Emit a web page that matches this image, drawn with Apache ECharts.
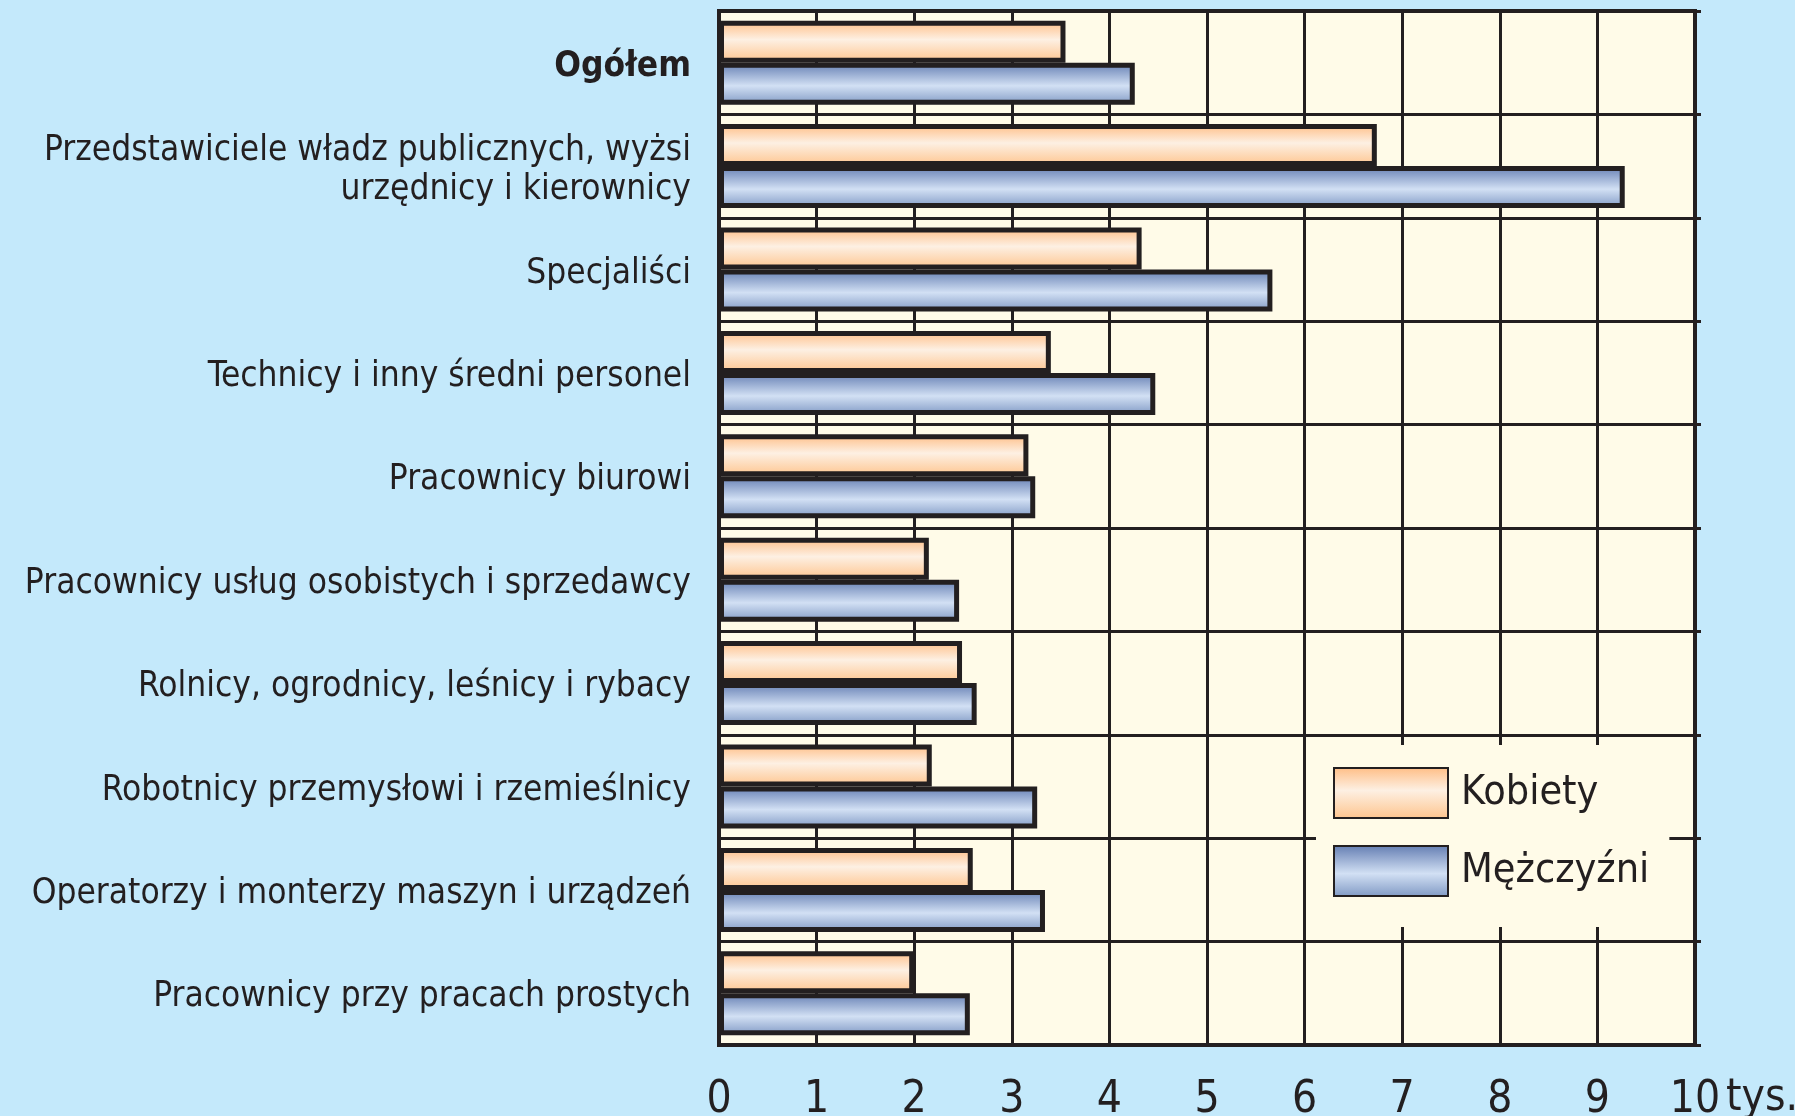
<!DOCTYPE html>
<html>
<head>
<meta charset="utf-8">
<script src="https://cdn.jsdelivr.net/npm/echarts@6/dist/echarts.min.js"></script>
<style>
html,body{margin:0;padding:0;background:#c4e9fb;}
#c{width:1795px;height:1116px;}
</style>
</head>
<body>
<div id="c"></div>
<script>
const categories = [
  'Ogółem',
  'Przedstawiciele władz publicznych, wyżsi\nurzędnicy i kierownicy',
  'Specjaliści',
  'Technicy i inny średni personel',
  'Pracownicy biurowi',
  'Pracownicy usług osobistych i sprzedawcy',
  'Rolnicy, ogrodnicy, leśnicy i rybacy',
  'Robotnicy przemysłowi i rzemieślnicy',
  'Operatorzy i monterzy maszyn i urządzeń',
  'Pracownicy przy pracach prostych'
];
const seriesNames = ['Kobiety', 'Mężczyźni'];
const kobiety   = [3.55, 6.74, 4.33, 3.40, 3.17, 2.15, 2.49, 2.18, 2.60, 2.00];
const mezczyzni = [4.26, 9.28, 5.67, 4.47, 3.24, 2.46, 2.64, 3.26, 3.34, 2.57];
const xTicks = [0, 1, 2, 3, 4, 5, 6, 7, 8, 9, 10];
const unitLabel = 'tys.';

const FONT = '"Liberation Sans Narrow", "DejaVu Sans Condensed", "Open Sans", sans-serif';
const INK = '#231f20';

const orangeGrad = new echarts.graphic.LinearGradient(0, 0, 0, 1, [
  {offset: 0, color: '#ffbd84'},
  {offset: 0.45, color: '#fdf0e3'},
  {offset: 1, color: '#fec48d'}
]);
const blueGrad = new echarts.graphic.LinearGradient(0, 0, 0, 1, [
  {offset: 0, color: '#637db2'},
  {offset: 0.55, color: '#d2e0f4'},
  {offset: 1, color: '#8099c4'}
]);

const chart = echarts.init(document.getElementById('c'), null, {renderer: 'canvas'});
chart.setOption({
  backgroundColor: '#c4e9fb',
  animation: false,
  textStyle: {fontFamily: FONT},
  grid: {
    left: 719, right: 100, top: 11, bottom: 71,
    containLabel: false, outerBoundsMode: 'none',
    show: true, backgroundColor: '#fffbe8', borderColor: INK, borderWidth: 4
  },
  legend: {
    orient: 'vertical',
    left: 1316, top: 745,
    padding: [22, 20, 30, 17],
    backgroundColor: '#fffbe8',
    itemWidth: 114, itemHeight: 50, itemGap: 26,
    icon: 'rect',
    textStyle: {fontSize: 41, color: INK, fontFamily: FONT, padding: [10, 0, 0, 8]},
    data: seriesNames
  },
  xAxis: {
    type: 'value', min: xTicks[0], max: xTicks[xTicks.length - 1], interval: 1,
    axisLine: {show: false}, axisTick: {show: false},
    splitLine: {show: true, lineStyle: {color: INK, width: 3}},
    axisLabel: {fontSize: 44, color: INK, margin: 34, fontFamily: FONT}
  },
  yAxis: [{
    type: 'category', inverse: true, data: categories,
    axisLine: {show: false}, axisTick: {show: false},
    splitLine: {show: true, lineStyle: {color: INK, width: 3}},
    axisLabel: {
      fontSize: 35, color: INK, margin: 28, lineHeight: 39, align: 'right', fontFamily: FONT,
      padding: [8, 0, 0, 0],
      formatter: (v, i) => i === 0 ? '{b|' + v + '}' : v,
      rich: {b: {fontWeight: 'bold', fontSize: 35, color: INK, fontFamily: FONT}}
    }
  }, {
    type: 'category', inverse: true, data: categories, position: 'right',
    axisLine: {show: false},
    axisTick: {show: true, length: 6, lineStyle: {color: INK, width: 3}},
    axisLabel: {show: false}, splitLine: {show: false}
  }],
  graphic: [{
    type: 'text', left: 1726, top: 1077,
    style: {text: unitLabel, font: '44px ' + FONT, fill: INK}
  }],
  series: [{
    name: seriesNames[0], type: 'bar', data: kobiety, yAxisIndex: 0,
    barWidth: 42, barGap: '0%',
    itemStyle: {color: orangeGrad, borderColor: INK, borderWidth: 5}
  }, {
    name: seriesNames[1], type: 'bar', data: mezczyzni, yAxisIndex: 0,
    barWidth: 42, barGap: '0%',
    itemStyle: {color: blueGrad, borderColor: INK, borderWidth: 5}
  }]
});
</script>
</body>
</html>
